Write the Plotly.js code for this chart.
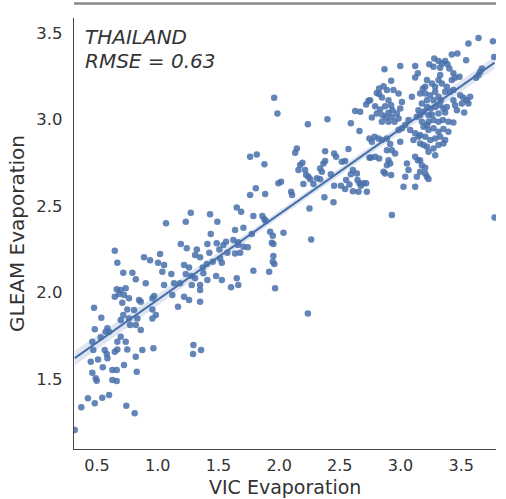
<!DOCTYPE html>
<html>
<head>
<meta charset="utf-8">
<script src="https://cdn.plot.ly/plotly-3.0.1.min.js"></script>
<style>html,body{margin:0;padding:0;background:#fff;}#chart{width:506px;height:499px;}</style>
</head>
<body>
<div id="chart"></div>
<script>
// VIC evaporation (x) and GLEAM evaporation (y)
const vicEvap = [
0.646,0.887,0.937,1.019,1.002,1.052,0.667,0.716,0.791,0.819,0.901,1.038,1.112,1.217,1.258,1.231,1.277,1.052,1.134,1.184,
0.662,0.695,0.736,0.681,0.722,0.646,0.763,0.708,0.846,0.860,0.970,0.956,1.120,1.217,1.258,0.475,0.749,0.805,0.956,1.167,
0.535,0.716,0.695,0.763,0.832,0.984,0.956,0.772,0.819,0.860,0.481,0.585,0.599,0.571,0.530,0.461,0.695,0.667,0.736,0.749,
0.667,0.469,0.563,0.580,0.585,0.646,0.873,0.964,0.508,0.448,0.819,0.547,0.722,0.461,0.626,0.662,0.827,0.489,0.497,0.626,
0.662,0.425,0.481,0.543,0.599,0.370,0.741,0.810,0.316,1.294,1.291,1.357,
1.272,1.068,1.231,1.431,1.491,1.651,1.437,1.637,1.190,1.239,1.322,1.409,1.486,1.563,1.623,1.508,1.308,1.349,1.425,1.514,
1.574,1.637,1.371,1.404,1.453,1.308,1.376,1.409,1.481,1.528,1.604,1.651,1.664,1.280,1.349,1.349,1.349,
2.237,1.761,1.816,1.879,2.132,2.146,2.173,2.192,2.159,2.214,2.242,2.256,2.311,2.338,2.352,2.365,2.200,2.283,1.994,2.016,
1.808,1.761,1.885,2.099,2.107,2.373,1.687,1.788,1.862,1.879,1.890,2.250,1.706,1.775,1.926,2.036,1.662,1.541,1.660,1.706,
1.742,1.940,1.953,2.264,1.679,1.528,1.953,1.961,1.788,1.918,1.967,2.237,
1.959,1.986,2.398,2.591,2.627,2.717,2.662,2.571,2.744,2.379,2.453,2.470,2.517,2.544,2.379,2.338,2.608,2.591,2.744,2.223,
2.426,2.552,2.580,2.509,2.453,2.646,2.662,2.674,2.717,2.723,2.608,2.544,2.448,1.948,1.948,
2.868,2.998,3.121,3.237,3.143,3.121,2.923,2.824,2.805,2.860,2.888,2.942,2.984,2.750,2.824,2.847,2.901,2.923,2.874,2.791,
2.833,2.805,2.852,2.901,2.934,2.970,2.984,2.951,2.901,2.847,2.880,2.764,2.929,2.668,3.012,2.998,3.094,3.162,3.204,3.218,
3.176,3.148,3.218,3.135,3.176,3.218,3.231,3.190,3.066,3.039,3.012,2.984,2.786,2.819,2.764,2.847,2.888,3.080,3.121,3.107,
3.148,3.162,3.204,3.218,2.915,2.888,2.998,2.929,2.956,2.758,2.791,2.824,2.901,2.888,2.915,2.860,2.874,2.923,3.053,3.066,
3.121,3.143,3.176,3.204,3.039,3.135,3.025,3.121,3.218,2.641,2.695,2.654,2.736,
3.560,3.643,3.762,3.772,3.423,3.469,3.541,3.278,3.313,3.341,3.368,3.272,3.387,3.403,3.327,3.436,3.486,3.450,3.423,3.327,
3.671,3.657,3.643,3.623,3.218,3.259,3.286,3.313,3.341,3.382,3.409,3.368,3.436,3.185,3.204,3.245,3.286,3.313,3.333,3.272,
3.492,3.519,3.547,3.574,3.506,3.560,3.436,3.450,3.465,3.525,3.245,3.286,3.327,3.354,3.382,3.368,3.313,3.259,3.162,3.231,
3.272,3.313,3.349,3.395,3.436,3.190,3.231,3.272,3.313,3.354,3.395,3.162,3.245,3.286,3.327,3.368,3.190,3.272,3.313,3.354,
3.286,3.231,3.162,3.204,3.231,3.162,
2.929,3.775
];
const gleamEvap = [
2.241,2.203,2.187,2.222,2.172,2.159,2.172,2.114,2.114,2.076,2.053,2.120,2.107,2.159,2.145,2.107,2.095,2.043,2.053,2.053,
2.018,2.014,2.024,1.991,1.985,1.975,1.966,1.941,1.956,1.946,1.979,1.966,1.985,1.975,1.956,1.912,1.902,1.898,1.902,1.918,
1.854,1.870,1.841,1.850,1.850,1.870,1.850,1.812,1.812,1.783,1.787,1.793,1.773,1.773,1.741,1.715,1.744,1.715,1.715,1.671,
1.671,1.667,1.667,1.644,1.619,1.657,1.667,1.677,1.613,1.600,1.628,1.567,1.581,1.536,1.552,1.552,1.542,1.504,1.490,1.494,
1.488,1.388,1.359,1.392,1.407,1.336,1.345,1.301,1.205,1.696,1.644,1.667,
2.461,2.400,2.409,2.453,2.409,2.492,2.338,2.361,2.280,2.255,2.249,2.280,2.284,2.293,2.303,2.249,2.216,2.203,2.230,2.197,
2.230,2.226,2.145,2.164,2.178,2.082,2.111,2.072,2.095,2.072,2.030,2.082,2.043,2.043,2.043,2.014,1.946,
2.973,2.785,2.798,2.742,2.808,2.833,2.737,2.750,2.708,2.708,2.669,2.654,2.660,2.654,2.698,2.746,2.627,2.627,2.631,2.640,
2.602,2.563,2.569,2.582,2.563,2.550,2.467,2.442,2.442,2.423,2.413,2.486,2.374,2.338,2.351,2.345,2.291,2.274,2.274,2.264,
2.261,2.287,2.280,2.307,2.230,2.172,2.211,2.164,2.126,2.120,2.024,1.879,
3.126,3.035,3.002,2.978,3.049,3.087,2.933,2.829,2.891,2.817,2.804,2.785,2.756,2.760,2.760,2.717,2.708,2.683,2.779,2.679,
2.683,2.650,2.625,2.617,2.617,2.650,2.631,2.617,2.631,2.582,2.586,2.598,2.521,2.328,2.178,
3.290,3.309,3.309,3.320,3.267,3.243,3.224,3.180,3.154,3.193,3.170,3.170,3.151,3.112,3.147,3.128,3.112,3.083,3.077,3.077,
3.058,3.035,3.025,3.039,3.054,3.035,3.006,2.987,2.987,2.987,3.012,3.012,3.016,3.045,3.102,3.064,3.131,3.151,3.189,3.112,
3.093,3.054,3.073,3.016,2.987,2.968,3.025,3.045,2.997,2.968,2.949,2.939,2.900,2.891,2.871,2.881,2.891,2.939,2.920,2.881,
2.900,2.862,2.900,2.842,2.858,2.823,2.871,2.823,2.804,2.781,2.785,2.775,2.765,2.736,2.746,2.698,2.688,2.679,2.746,2.708,
2.785,2.765,2.736,2.688,2.669,2.669,2.611,2.611,2.669,2.688,2.631,2.582,3.108,
3.440,3.472,3.453,3.362,3.376,3.382,3.343,3.353,3.338,3.324,3.338,3.305,3.319,3.295,3.299,3.267,3.247,3.241,3.228,3.257,
3.295,3.276,3.257,3.241,3.228,3.209,3.189,3.228,3.209,3.189,3.160,3.160,3.170,3.180,3.151,3.141,3.160,3.131,3.112,3.112,
3.141,3.126,3.112,3.131,3.093,3.093,3.112,3.083,3.054,3.041,3.064,3.073,3.083,3.064,3.073,3.041,3.035,3.029,3.025,2.987,
2.997,2.987,2.997,2.987,2.983,2.958,2.939,2.949,2.929,2.945,2.929,2.910,2.881,2.891,2.900,2.881,2.852,2.833,2.852,2.862,
2.794,2.813,2.765,2.721,2.656,2.698,
2.448,2.434
];
const xTicks = [0.5, 1.0, 1.5, 2.0, 2.5, 3.0, 3.5];
const yTicks = [1.5, 2.0, 2.5, 3.0, 3.5];
const countryLabel = "THAILAND";
const rmseLabel = "RMSE = 0.63";
const xTitle = "VIC Evaporation";
const yTitle = "GLEAM Evaporation";

// ordinary least squares fit with 95% confidence band (as seaborn regplot)
const n = Math.min(vicEvap.length, gleamEvap.length);
const xs = vicEvap.slice(0, n), ys = gleamEvap.slice(0, n);
const mx = xs.reduce((a,b)=>a+b,0)/n, my = ys.reduce((a,b)=>a+b,0)/n;
let sxx=0, sxy=0;
for (let i=0;i<n;i++){ sxx += (xs[i]-mx)**2; sxy += (xs[i]-mx)*(ys[i]-my); }
const slope = sxy/sxx, icpt = my - slope*mx;
let sse=0; for (let i=0;i<n;i++){ sse += (ys[i]-(icpt+slope*xs[i]))**2; }
const s = Math.sqrt(sse/(n-2));
const xmin = Math.min(...xs), xmax = Math.max(...xs);
const gx=[], gy=[], gu=[], gl=[];
for (let k=0;k<=100;k++){
  const x = xmin + (xmax-xmin)*k/100;
  const yh = icpt + slope*x;
  const se = s*Math.sqrt(1/n + (x-mx)**2/sxx);
  gx.push(x); gy.push(yh); gu.push(yh+1.97*se); gl.push(yh-1.97*se);
}

const blue = 'rgb(72,112,170)';
const traces = [
  {x: xs, y: ys, type:'scatter', mode:'markers',
   marker:{color:blue, size:6.5, opacity:0.85, line:{width:0}}, hoverinfo:'skip'},
  {x: gx, y: gl, type:'scatter', mode:'lines', line:{width:0, color:blue}, hoverinfo:'skip'},
  {x: gx, y: gu, type:'scatter', mode:'lines', line:{width:0, color:blue}, fill:'tonexty', fillcolor:'rgba(76,114,176,0.18)', hoverinfo:'skip'},
  {x: gx, y: gy, type:'scatter', mode:'lines', line:{width:2, color:blue}, hoverinfo:'skip'}
];

const tickFont = {family:'DejaVu Sans', size:16, color:'#333333'};
const layout = {
  width:506, height:499,
  margin:{l:74, r:10, t:18, b:50},
  paper_bgcolor:'#ffffff', plot_bgcolor:'#ffffff',
  showlegend:false,
  xaxis:{range:[0.31,3.787], tickvals:xTicks, ticktext:xTicks.map(v=>v.toFixed(1)),
         showgrid:false, zeroline:false, showline:true, linecolor:'#444', linewidth:1.3,
         ticks:'', tickfont:tickFont, ticklabelstandoff:1},
  yaxis:{range:[1.095,3.587], tickvals:yTicks, ticktext:yTicks.map(v=>v.toFixed(1)),
         showgrid:false, zeroline:false, showline:true, linecolor:'#444', linewidth:1.3,
         ticks:'', tickfont:{family:'DejaVu Sans', size:16.5, color:'#333333'}, ticklabelstandoff:7,
         title:{text:yTitle, font:{family:'DejaVu Sans', size:20, color:'#333333'}, standoff:6}},
  annotations:[
    {xref:'paper', yref:'paper', x:0.021, y:(449-37)/431, xanchor:'left', yanchor:'middle',
     text:'<i>'+countryLabel+'</i>', showarrow:false, font:{family:'DejaVu Sans', size:20, color:'#333333'}},
    {xref:'paper', yref:'paper', x:0.021, y:(449-61)/431, xanchor:'left', yanchor:'middle',
     text:'<i>'+rmseLabel+'</i>', showarrow:false, font:{family:'DejaVu Sans', size:20, color:'#333333'}},
    {xref:'paper', yref:'paper', x:0.5, y:(449-486.5)/431, xanchor:'center', yanchor:'middle', borderpad:0,
     text:xTitle, showarrow:false, font:{family:'DejaVu Sans', size:19, color:'#333333'}}
  ],
  shapes:[
    {type:'line', xref:'paper', yref:'paper', x0:0, x1:1, y0:(449-3.5)/431, y1:(449-3.5)/431,
     line:{color:'#8a8a8a', width:2.5}}
  ]
};
Plotly.newPlot('chart', traces, layout, {displayModeBar:false, staticPlot:true});
</script>
</body>
</html>
